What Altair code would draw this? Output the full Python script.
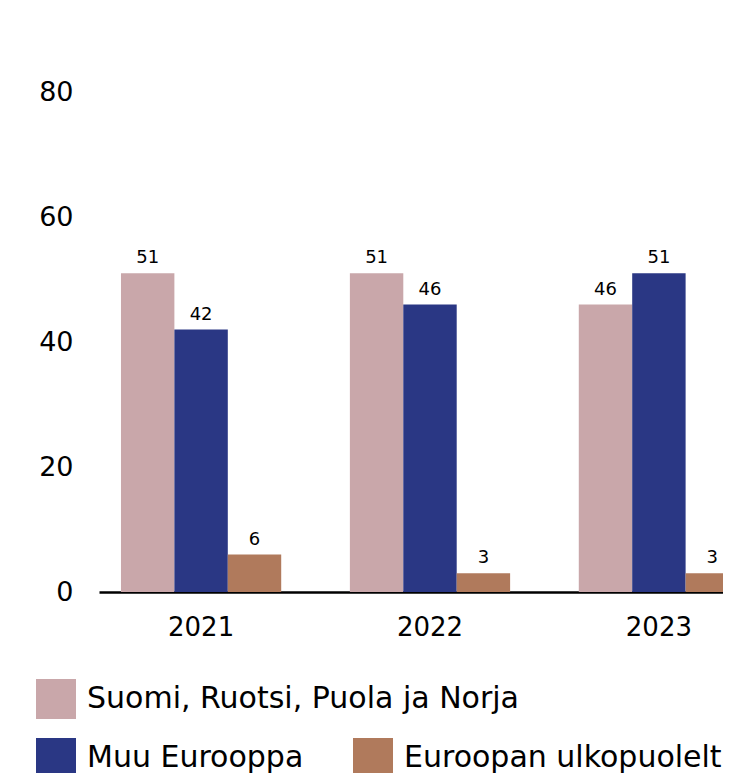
import altair as alt
import pandas as pd

years = ["2021", "2022", "2023"]
series = ["Suomi, Ruotsi, Puola ja Norja", "Muu Eurooppa", "Euroopan ulkopuolelta"]
colors = ["#c9a7aa", "#2a3784", "#b07a5c"]
nordic = [51, 51, 46]
other_europe = [42, 46, 51]
outside_europe = [6, 3, 3]
y_ticks = [0, 20, 40, 60, 80]

rows = []
for s, vals in zip(series, [nordic, other_europe, outside_europe]):
    for yr, v in zip(years, vals):
        rows.append({"year": yr, "series": s, "value": v})
df = pd.DataFrame(rows)

FONT = "DejaVu Sans"

x_enc = alt.X(
    "year:N",
    sort=years,
    scale=alt.Scale(paddingInner=0.3, paddingOuter=0.096),
    axis=alt.Axis(
        title=None, labelAngle=0, ticks=False, tickSize=0,
        domainColor="black", domainWidth=2.5,
        labelFont=FONT, labelFontSize=26, labelColor="black", labelPadding=22,
    ),
)
xoff_enc = alt.XOffset("series:N", sort=series,
                       scale=alt.Scale(domain=series, paddingInner=0, paddingOuter=0))
y_enc = alt.Y(
    "value:Q",
    scale=alt.Scale(domain=[0, 80], nice=False),
    axis=alt.Axis(
        values=y_ticks, title=None, grid=False, domain=False, ticks=False, tickSize=0,
        labelFont=FONT, labelFontSize=27, labelColor="black", labelPadding=26,
    ),
)

legend_pos = [(-63, 587), (-63, 646), (254, 646)]

layers = []
for i, s in enumerate(series):
    lx, ly = legend_pos[i]
    layers.append(
        alt.Chart(df)
        .transform_filter(alt.FieldEqualPredicate(field="series", equal=s))
        .mark_bar()
        .encode(
            x=x_enc,
            xOffset=xoff_enc,
            y=y_enc,
            color=alt.Color(
                "series:N",
                scale=alt.Scale(domain=[s], range=[colors[i]]),
                legend=alt.Legend(
                    orient="none", legendX=lx, legendY=ly, title=None, padding=0,
                    symbolType="square", symbolSize=1600, symbolStrokeWidth=0,
                    labelFont=FONT, labelFontSize=30, labelColor="black",
                    labelOffset=11, labelLimit=600,
                ),
            ),
        )
    )

labels = (
    alt.Chart(df)
    .mark_text(dy=-10, baseline="alphabetic", font=FONT, fontSize=18, color="black")
    .encode(x=x_enc, xOffset=xoff_enc, y=y_enc, text=alt.Text("value:Q"))
)

chart = (
    alt.layer(*layers, labels)
    .resolve_scale(color="independent")
    .properties(
        width=662, height=500,
        autosize=alt.AutoSizeParams(type="none"),
        padding={"left": 91, "top": 84, "right": -38, "bottom": 181},
    )
    .configure_view(strokeWidth=0)
)

chart.save("out.html", embed_options={"renderer": "svg", "actions": False})
